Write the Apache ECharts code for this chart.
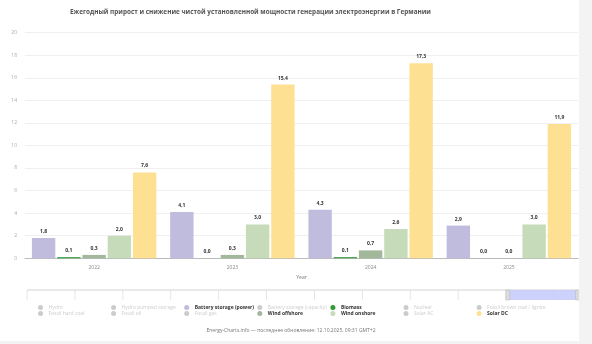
<!DOCTYPE html>
<html>
<head>
<meta charset="utf-8">
<script src="https://cdn.jsdelivr.net/npm/echarts@6/dist/echarts.min.js"></script>
<style>
  html, body { margin: 0; padding: 0; background: #f3f3f3; }
  #chart { width: 579px; height: 341px; background: #ffffff; }
</style>
</head>
<body>
<div id="chart"></div>
<script>
// Years shown in the bar chart
const years = ['2022', '2023', '2024', '2025'];
// Full range of years available in the zoom slider
const allYears = ['2002','2003','2004','2005','2006','2007','2008','2009','2010','2011','2012','2013',
  '2014','2015','2016','2017','2018','2019','2020','2021','2022','2023','2024','2025'];

// Net yearly change of installed capacity, GW
const batteryPower = [1.8, 4.1, 4.3, 2.9];
const biomass      = [0.1, 0.0, 0.1, 0.0];
const windOffshore = [0.3, 0.3, 0.7, 0.0];
const windOnshore  = [2.0, 3.0, 2.6, 3.0];
const solarDC      = [7.6, 15.4, 17.3, 11.9];

const yTicks = { min: 0, max: 20, interval: 2 };

// All sources, in legend order; only some carry values in this view
const sources = [
  { name: 'Hydro', color: '#4a90d9', data: [] },
  { name: 'Hydro pumped storage', color: '#1f5fa8', data: [] },
  { name: 'Battery storage (power)', color: '#c0bcde', data: batteryPower, on: true },
  { name: 'Battery storage (capacity)', color: '#a09cc8', data: [] },
  { name: 'Biomass', color: '#2e9a3a', data: biomass, on: true },
  { name: 'Nuclear', color: '#e0312b', data: [] },
  { name: 'Fossil brown coal / lignite', color: '#8b5a2b', data: [] },
  { name: 'Fossil hard coal', color: '#333333', data: [] },
  { name: 'Fossil oil', color: '#7a3b3b', data: [] },
  { name: 'Fossil gas', color: '#e8a23a', data: [] },
  { name: 'Wind offshore', color: '#a2b89b', data: windOffshore, on: true },
  { name: 'Wind onshore', color: '#c6dbb9', data: windOnshore, on: true },
  { name: 'Solar AC', color: '#f5c542', data: [] },
  { name: 'Solar DC', color: '#fee093', data: solarDC, on: true }
];

const fmt = v => v.toFixed(1).replace('.', ',');
const FONT = '"Open Sans", "Noto Sans", sans-serif';

const selected = {};
sources.forEach(s => { selected[s.name] = !!s.on; });

function legendRow(items, top) {
  return {
    type: 'plain',
    orient: 'horizontal',
    left: 38,
    top: top,
    padding: 0,
    itemWidth: 6,
    itemHeight: 5,
    itemGap: 0,
    icon: 'circle',
    inactiveColor: '#cccccc',
    selected: selected,
    textStyle: { fontFamily: FONT, fontSize: 5, color: '#333', width: 62.6, padding: 0, lineHeight: 6 },
    data: items.map(s => ({
      name: s.name,
      textStyle: { fontWeight: s.on ? 'bold' : 'normal', color: s.on ? '#333' : '#bbb' }
    }))
  };
}

const chart = echarts.init(document.getElementById('chart'), null, { renderer: 'canvas' });

// Slider decoration: ticks every other year along the zoom track
const sliderLeft = 27, sliderRight = 578, sliderTop = 290, sliderH = 10;
const combLines = [];
const step = (sliderRight - sliderLeft) / (allYears.length - 1);
for (let i = 0; i < allYears.length; i += 2) {
  combLines.push({
    type: 'line',
    silent: true,
    z: 0,
    shape: { x1: sliderLeft + i * step, y1: sliderTop, x2: sliderLeft + i * step, y2: sliderTop + sliderH },
    style: { stroke: '#e6e6e6', lineWidth: 1 }
  });
}
combLines.push({
  type: 'line', silent: true, z: 0,
  shape: { x1: sliderLeft, y1: sliderTop, x2: sliderRight, y2: sliderTop },
  style: { stroke: '#e2e2e2', lineWidth: 1.5 }
});

chart.setOption({
  animation: false,
  textStyle: { fontFamily: FONT },
  title: [
    {
      text: 'Ежегодный прирост и снижение чистой установленной мощности генерации электроэнергии в Германии',
      left: 70, top: 9, padding: 0,
      textStyle: { fontFamily: FONT, fontSize: 6.4, fontWeight: 'bold', color: '#555' }
    },
    {
      text: 'Energy-Charts.info — последнее обновление: 12.10.2025, 09:31 GMT+2',
      left: 291, top: 328, padding: 0, textAlign: 'center',
      textStyle: { fontFamily: FONT, fontSize: 5, fontWeight: 'normal', color: '#777' }
    }
  ],
  legend: [
    legendRow(sources.slice(0, 7), 304.5),
    legendRow(sources.slice(7), 310.5)
  ],
  grid: { left: 25, right: 1, top: 32.7, bottom: 82.7, outerBoundsMode: 'none', containLabel: false },
  xAxis: [
    {
      type: 'category',
      data: years,
      name: 'Year',
      nameLocation: 'middle',
      nameGap: 17,
      nameTextStyle: { fontSize: 5, color: '#777' },
      axisLine: { lineStyle: { color: '#bbb', width: 1 } },
      axisTick: { show: false },
      axisLabel: { fontSize: 5, color: '#888', margin: 7 }
    },
    {
      type: 'category',
      data: allYears,
      show: false
    }
  ],
  yAxis: {
    type: 'value',
    min: yTicks.min, max: yTicks.max, interval: yTicks.interval,
    name: 'Power (GW)',
    nameLocation: 'middle',
    nameGap: 16,
    nameTextStyle: { fontSize: 5, color: '#666' },
    axisLine: { show: false },
    axisTick: { show: false },
    axisLabel: { fontSize: 5, color: '#aaa', margin: 8 },
    splitLine: { lineStyle: { color: '#f0f0f0', width: 1 } }
  },
  dataZoom: [{
    type: 'slider',
    xAxisIndex: 1,
    filterMode: 'none',
    startValue: '2022',
    endValue: '2025',
    left: sliderLeft,
    right: 579 - sliderRight,
    top: sliderTop,
    height: sliderH,
    showDetail: false,
    showDataShadow: false,
    brushSelect: false,
    moveHandleSize: 0,
    backgroundColor: 'rgba(0,0,0,0)',
    borderColor: 'rgba(0,0,0,0)',
    fillerColor: 'rgba(196,202,253,0.85)',
    handleIcon: 'path://M0,0 L4,0 L4,10 L0,10 Z',
    handleSize: '100%',
    handleStyle: { color: '#dcdcdc', borderColor: '#b5b5b5', borderWidth: 0.5 },
    zoomLock: true
  }],
  graphic: combLines,
  series: sources.map(s => ({
    name: s.name,
    type: 'bar',
    xAxisIndex: 0,
    data: s.data,
    barGap: '8%',
    barCategoryGap: '10%',
    itemStyle: { color: s.color },
    label: {
      show: true,
      position: 'top',
      distance: 4,
      fontSize: 5,
      fontWeight: 'bold',
      color: '#333',
      formatter: p => fmt(p.value)
    }
  }))
});
</script>
</body>
</html>
